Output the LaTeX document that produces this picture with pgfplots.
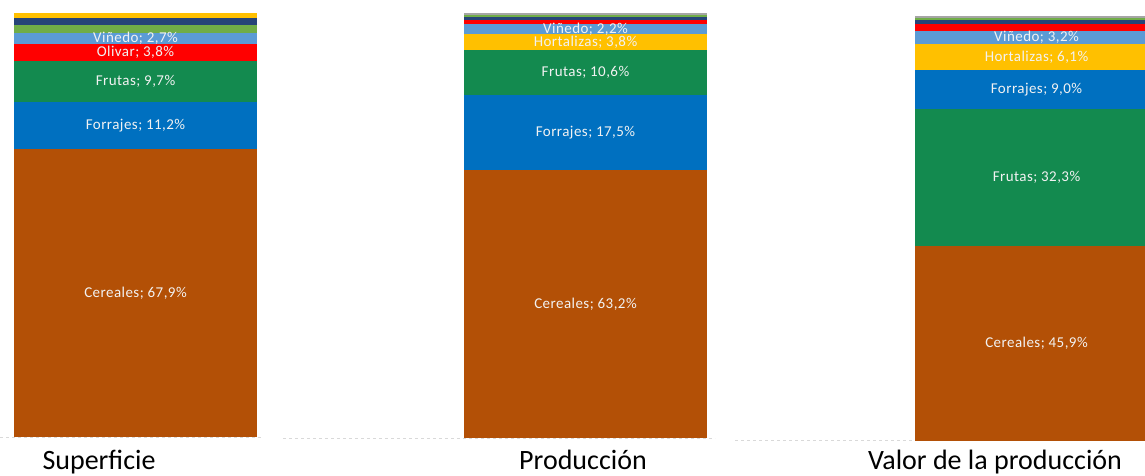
\documentclass[border=0pt]{standalone}
\usepackage{fontspec}
\setmainfont{Carlito}
\newfontfamily\lblfont[LetterSpace=3]{Carlito}
\usepackage{pgfplots}
\pgfplotsset{compat=1.18}

\definecolor{cCereales}{HTML}{B35006}
\definecolor{cForrajes}{HTML}{0070C0}
\definecolor{cFrutas}{HTML}{138A4F}
\definecolor{cOlivar}{HTML}{FF0000}
\definecolor{cHortalizas}{HTML}{FFC000}
\definecolor{cVinedo}{HTML}{5B9BD5}
\definecolor{cVerde}{HTML}{70AD47}
\definecolor{cAzul}{HTML}{264478}
\definecolor{cGris}{HTML}{A5A5A5}
\definecolor{cLinea}{HTML}{D9D9D9}
\definecolor{cTexto}{HTML}{F2F2F2}

\pgfplotsset{
  panel/.style={
    scale only axis,
    ybar stacked,
    bar width=243pt,
    ymin=0, ymax=100,
    xmin=0,
    axis y line=none,
    axis x line*=bottom,
    x axis line style={cLinea, dashed, line width=1pt, -},
    xtick=\empty, ytick=\empty,
    clip=false,
    point meta=explicit symbolic,
    nodes near coords,
    every node near coord/.style={font=\lblfont\fontsize{15}{17}\selectfont, text=cTexto},
  },
}

\begin{document}
\begin{tikzpicture}
\useasboundingbox (0pt,0pt) rectangle (1145pt,476pt);
\clip (0pt,0pt) rectangle (1145pt,476pt);

% Superficie
\begin{axis}[panel, at={(0pt,38.5pt)}, anchor=south west, width=262pt, height=424.5pt, xmax=262]
\addplot[fill=cCereales, draw=none] coordinates {(135.5,67.9) [{Cereales; 67,9\%}]};
\addplot[fill=cForrajes, draw=none] coordinates {(135.5,11.2) [{Forrajes; 11,2\%}]};
\addplot[fill=cFrutas, draw=none] coordinates {(135.5,9.7) [{Frutas; 9,7\%}]};
\addplot[fill=cOlivar, draw=none] coordinates {(135.5,3.8) [{Olivar; 3,8\%}]};
\addplot[fill=cVinedo, draw=none] coordinates {(135.5,2.7) [{Viñedo; 2,7\%}]};
\addplot[fill=cVerde, draw=none] coordinates {(135.5,1.9) []};
\addplot[fill=cAzul, draw=none] coordinates {(135.5,1.6) []};
\addplot[fill=cHortalizas, draw=none] coordinates {(135.5,1.2) []};
\end{axis}

% Produccion
\begin{axis}[panel, at={(283pt,37.5pt)}, anchor=south west, width=432pt, height=425.5pt, xmax=432]
\addplot[fill=cCereales, draw=none] coordinates {(302.5,63.2) [{Cereales; 63,2\%}]};
\addplot[fill=cForrajes, draw=none] coordinates {(302.5,17.5) [{Forrajes; 17,5\%}]};
\addplot[fill=cFrutas, draw=none] coordinates {(302.5,10.6) [{Frutas; 10,6\%}]};
\addplot[fill=cHortalizas, draw=none] coordinates {(302.5,3.8) [{Hortalizas; 3,8\%}]};
\addplot[fill=cVinedo, draw=none] coordinates {(302.5,2.2) [{Viñedo; 2,2\%}]};
\addplot[fill=cOlivar, draw=none] coordinates {(302.5,1.0) []};
\addplot[fill=cAzul, draw=none] coordinates {(302.5,0.7) []};
\addplot[fill=cVerde, draw=none] coordinates {(302.5,0.5) []};
\addplot[fill=cGris, draw=none] coordinates {(302.5,0.5) []};
\end{axis}

% Valor de la produccion
\begin{axis}[panel, at={(735pt,35pt)}, anchor=south west, width=430pt, height=425pt, xmax=430]
\addplot[fill=cCereales, draw=none] coordinates {(301.5,45.9) [{Cereales; 45,9\%}]};
\addplot[fill=cFrutas, draw=none] coordinates {(301.5,32.3) [{Frutas; 32,3\%}]};
\addplot[fill=cForrajes, draw=none] coordinates {(301.5,9.0) [{Forrajes; 9,0\%}]};
\addplot[fill=cHortalizas, draw=none] coordinates {(301.5,6.1) [{Hortalizas; 6,1\%}]};
\addplot[fill=cVinedo, draw=none] coordinates {(301.5,3.2) [{Viñedo; 3,2\%}]};
\addplot[fill=cOlivar, draw=none] coordinates {(301.5,1.7) []};
\addplot[fill=cAzul, draw=none] coordinates {(301.5,0.8) []};
\addplot[fill=cVerde, draw=none] coordinates {(301.5,0.6) []};
\addplot[fill=cGris, draw=none] coordinates {(301.5,0.4) []};
\end{axis}

\node[font=\fontsize{28}{32}\selectfont, anchor=base] at (99pt,6pt) {Superficie};
\node[font=\fontsize{28}{32}\selectfont, anchor=base] at (583pt,6pt) {Producción};
\node[font=\fontsize{28}{32}\selectfont, anchor=base] at (995pt,6pt) {Valor de la producción};
\end{tikzpicture}
\end{document}
